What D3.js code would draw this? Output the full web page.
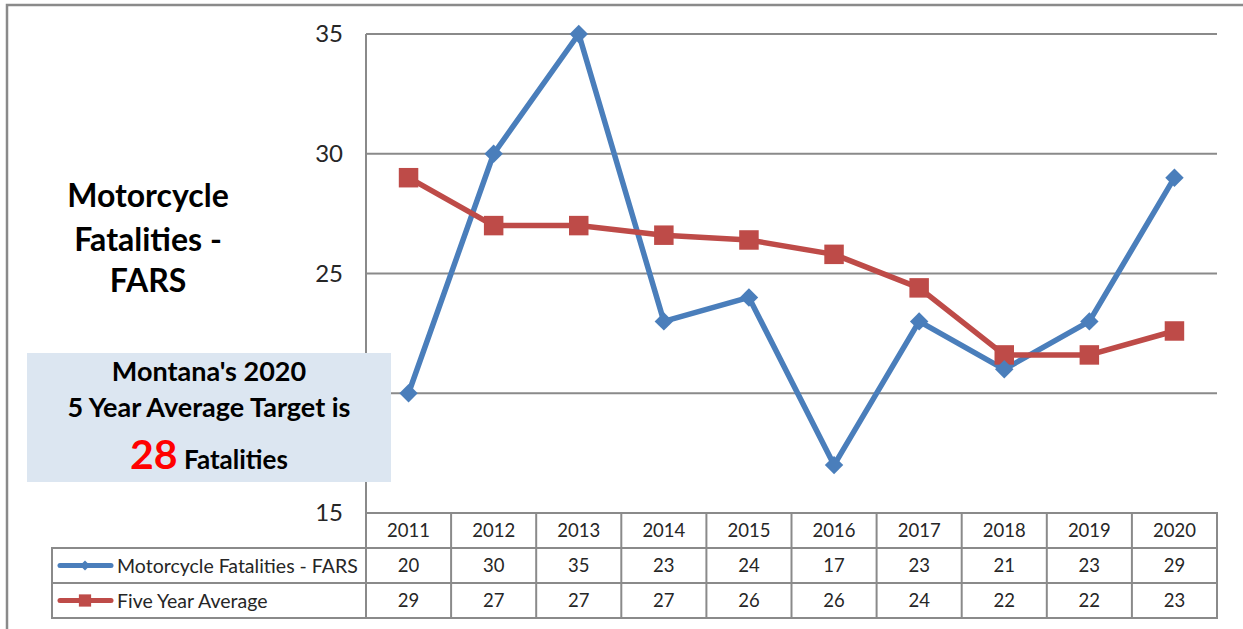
<!DOCTYPE html>
<html>
<head>
<meta charset="utf-8">
<script src="https://cdn.jsdelivr.net/npm/d3@7"></script>
<style>
  body { margin: 0; background: #fff; }
  svg { display: block; font-family: Lato, "Open Sans", sans-serif; }
</style>
</head>
<body>
<svg id="chart" width="1243" height="629"></svg>
<script>
const years = ['2011', '2012', '2013', '2014', '2015', '2016', '2017', '2018', '2019', '2020'];
const fatalities = [20, 30, 35, 23, 24, 17, 23, 21, 23, 29];
// plotted values of the average (the table shows them rounded)
const fiveYearAvg = [29, 27, 27, 26.6, 26.4, 25.8, 24.4, 21.6, 21.6, 22.6];
const fiveYearAvgLabels = [29, 27, 27, 27, 26, 26, 24, 22, 22, 23];
const yTicks = [15, 20, 25, 30, 35];
const seriesNames = ['Motorcycle Fatalities - FARS', 'Five Year Average'];

const blue = '#4a7ebb';
const red = '#be4b48';
const gridColor = '#8a8a8a';

const svg = d3.select('#chart');

const x = d3.scaleBand().domain(years).range([366, 1217]);
const y = d3.scaleLinear().domain([15, 35]).range([513, 34]);
const rowH = 35;
const tableLeft = 52;
const box = {x: 27, y: 353, width: 364, height: 129};

// outer frame, only left and top edges are visible
svg.append('path')
    .attr('d', 'M7,629V5H1243')
    .attr('fill', 'none')
    .attr('stroke', gridColor)
    .attr('stroke-width', 2.5);

// gridlines
svg.append('g')
  .selectAll('line')
  .data(yTicks)
  .join('line')
    .attr('x1', x.range()[0])
    .attr('x2', x.range()[1])
    .attr('y1', d => y(d))
    .attr('y2', d => y(d))
    .attr('stroke', gridColor)
    .attr('stroke-width', 2);

svg.append('line')
    .attr('x1', x.range()[0]).attr('x2', x.range()[0])
    .attr('y1', y(35)).attr('y2', y(15))
    .attr('stroke', gridColor)
    .attr('stroke-width', 2);

// y tick labels (the one under the callout box is hidden in the original)
svg.append('g')
  .selectAll('text')
  .data(yTicks.filter(d => y(d) < box.y || y(d) > box.y + box.height))
  .join('text')
    .attr('x', 343)
    .attr('y', d => y(d) + 8)
    .attr('text-anchor', 'end')
    .attr('font-size', 24)
    .attr('fill', '#262626')
    .text(d => d);

// data table
const table = svg.append('g')
    .attr('fill', 'none')
    .attr('stroke', gridColor)
    .attr('stroke-width', 2);

const top0 = y(15);
table.append('rect')
    .attr('x', x.range()[0]).attr('y', top0)
    .attr('width', x.range()[1] - x.range()[0]).attr('height', rowH * 3);
table.append('rect')
    .attr('x', tableLeft).attr('y', top0 + rowH)
    .attr('width', x.range()[1] - tableLeft).attr('height', rowH * 2);
table.append('line')
    .attr('x1', tableLeft).attr('x2', x.range()[1])
    .attr('y1', top0 + rowH * 2).attr('y2', top0 + rowH * 2);
table.selectAll('line.col')
  .data(years.slice(1))
  .join('line')
    .attr('class', 'col')
    .attr('x1', d => x(d)).attr('x2', d => x(d))
    .attr('y1', top0).attr('y2', top0 + rowH * 3);

const tableRows = [years, fatalities, fiveYearAvgLabels];
tableRows.forEach((row, r) => {
    svg.append('g')
      .selectAll('text')
      .data(row)
      .join('text')
        .attr('x', (d, i) => x(years[i]) + x.bandwidth() / 2)
        .attr('y', top0 + rowH * r + 24)
        .attr('text-anchor', 'middle')
        .attr('font-size', 18.5)
        .attr('fill', '#262626')
        .text(d => d);
});

// legend keys in the table
const keys = svg.append('g');
seriesNames.forEach((name, i) => {
    const cy = top0 + rowH * (i + 1) + rowH / 2;
    const color = i === 0 ? blue : red;
    keys.append('line')
        .attr('x1', 60).attr('x2', 111)
        .attr('y1', cy).attr('y2', cy)
        .attr('stroke', color)
        .attr('stroke-width', 5)
        .attr('stroke-linecap', 'round');
    keys.append('path')
        .attr('transform', i === 0 ? `translate(85,${cy}) rotate(45)` : `translate(85,${cy})`)
        .attr('d', i === 0 ? d3.symbol(d3.symbolSquare, 50)() : d3.symbol(d3.symbolSquare, 150)())
        .attr('fill', color);
    keys.append('text')
        .attr('x', 117)
        .attr('y', cy + 7)
        .attr('font-size', 19.5)
        .attr('fill', '#262626')
        .text(name);
});

// series lines
const line = d3.line()
    .x((d, i) => x(years[i]) + x.bandwidth() / 2)
    .y(d => y(d));

[[fatalities, blue], [fiveYearAvg, red]].forEach(([values, color]) => {
    svg.append('path')
        .datum(values)
        .attr('d', line)
        .attr('fill', 'none')
        .attr('stroke', color)
        .attr('stroke-width', 5.5)
        .attr('stroke-linejoin', 'round');
});

svg.append('g')
  .selectAll('path')
  .data(fiveYearAvg)
  .join('path')
    .attr('transform', (d, i) => `translate(${x(years[i]) + x.bandwidth() / 2},${y(d)})`)
    .attr('d', d3.symbol(d3.symbolSquare, 380)())
    .attr('fill', red);

svg.append('g')
  .selectAll('path')
  .data(fatalities)
  .join('path')
    .attr('transform', (d, i) => `translate(${x(years[i]) + x.bandwidth() / 2},${y(d)}) rotate(45)`)
    .attr('d', d3.symbol(d3.symbolSquare, 170)())
    .attr('fill', blue);

// title at left
const title = svg.append('text')
    .attr('text-anchor', 'middle')
    .attr('font-size', 32)
    .attr('font-weight', 'bold')
    .attr('fill', '#000');
[['Motorcycle', 207], ['Fatalities -', 251], ['FARS', 292]].forEach(([t, ty]) => {
    title.append('tspan')
        .attr('x', 148)
        .attr('y', ty)
        .text(t);
});

// target callout
svg.append('rect')
    .attr('x', box.x).attr('y', box.y)
    .attr('width', box.width).attr('height', box.height)
    .attr('fill', '#dce6f1');

const callout = svg.append('text')
    .attr('text-anchor', 'middle')
    .attr('font-weight', 'bold')
    .attr('font-size', 27)
    .attr('fill', '#000');
callout.append('tspan').attr('x', 209).attr('y', 381).text("Montana's 2020");
callout.append('tspan').attr('x', 209).attr('y', 417).text('5 Year Average Target is');

const target = svg.append('text')
    .attr('x', 209).attr('y', 469)
    .attr('text-anchor', 'middle')
    .attr('font-weight', 'bold')
    .attr('fill', '#000');
target.append('tspan')
    .attr('font-size', 41)
    .attr('fill', '#ff0000')
    .text('28');
target.append('tspan')
    .attr('font-size', 26)
    .text(' Fatalities');
</script>
</body>
</html>
